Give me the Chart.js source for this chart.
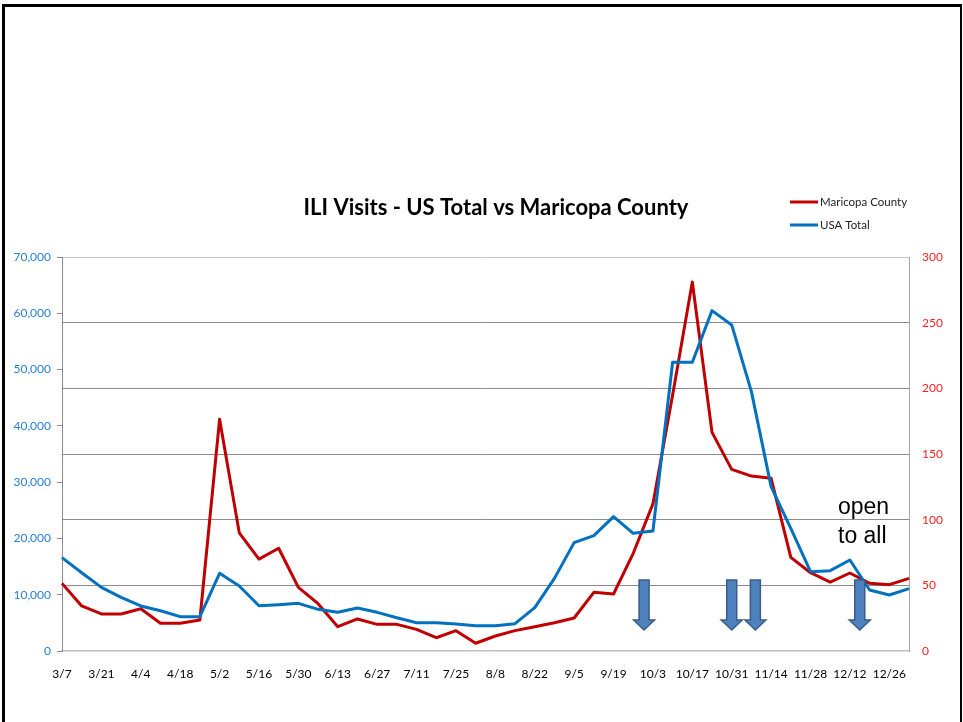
<!DOCTYPE html>
<html>
<head>
<meta charset="utf-8">
<title>ILI Visits - US Total vs Maricopa County</title>
<script src="https://cdn.jsdelivr.net/npm/chart.js@4.4.1/dist/chart.umd.min.js"></script>
<style>
  html, body { margin: 0; padding: 0; background: #fff; }
  #wrap { position: relative; width: 963px; height: 722px; }
  #frame {
    position: absolute; left: 2px; top: 4px; width: 955px; height: 730px;
    border-top: 3px solid #000; border-left: 3px solid #000; border-right: 2px solid #000;
    pointer-events: none;
  }
</style>
</head>
<body>
<div id="wrap">
  <canvas id="ili-chart" width="963" height="722"></canvas>
  <div id="frame"></div>
</div>
<script>
// Week labels (every other one is shown on the axis)
const weeks = [
  '3/7', '3/14', '3/21', '3/28', '4/4', '4/11', '4/18', '4/25', '5/2', '5/9',
  '5/16', '5/23', '5/30', '6/6', '6/13', '6/20', '6/27', '7/4', '7/11', '7/18',
  '7/25', '8/1', '8/8', '8/15', '8/22', '8/29', '9/5', '9/12', '9/19', '9/26',
  '10/3', '10/10', '10/17', '10/24', '10/31', '11/7', '11/14', '11/21', '11/28', '12/5',
  '12/12', '12/19', '12/26', '1/2'
];

// Maricopa County ILI visits (right axis)
const maricopa = [
  51.5, 34.3, 28.2, 28.2, 32.2, 21.1, 21.1, 23.6, 176.4, 90,
  70, 78.2, 48.5, 36, 18.5, 24.4, 20.3, 20.3, 16.5, 10.1,
  15.5, 5.9, 11.4, 15.5, 18.5, 21.5, 25.1, 44.7, 43.4, 74.4,
  112, 195, 281, 166.5, 138.3, 133.2, 131.5, 71.3, 59.6, 52.5,
  59.4, 51.5, 50.5, 55.3
];

// USA total ILI visits (left axis)
const usaTotal = [
  16600, 13900, 11300, 9540, 8000, 7160, 6100, 6100, 13800, 11550,
  8050, 8230, 8470, 7400, 6870, 7640, 6870, 5920, 5030, 5000,
  4800, 4500, 4500, 4850, 7700, 12900, 19250, 20500, 23870, 20900,
  21300, 51300, 51300, 60470, 57930, 46080, 29200, 21800, 14100, 14270,
  16170, 10840, 9950, 11070
];

// Axis ticks
const leftTicks = [0, 10000, 20000, 30000, 40000, 50000, 60000, 70000];
const rightTicks = [0, 50, 100, 150, 200, 250, 300];

// Arrow markers (week position, right-axis top and tip)
const arrowWeeks = [29.55, 34.0, 35.2, 40.5];
const arrowTop = 54;
const arrowTip = 16;
const noteLines = ['open', 'to all'];

const RED = '#C00000';
const BLUE = '#0070C0';

// Title, legend, arrows and note
const decorPlugin = {
  id: 'decor',
  afterDraw(chart) {
    const ctx = chart.ctx;
    const x = chart.scales.x;
    const yR = chart.scales.y1;
    ctx.save();

    // title
    ctx.fillStyle = '#000';
    ctx.font = 'bold 22px Lato, "Open Sans", sans-serif';
    ctx.textAlign = 'center';
    ctx.textBaseline = 'middle';
    ctx.fillText('ILI Visits - US Total vs Maricopa County', 496, 208);

    // legend
    const legendItems = [
      { label: 'Maricopa County', color: RED, y: 202 },
      { label: 'USA Total', color: BLUE, y: 225 }
    ];
    ctx.font = '11.5px Lato, sans-serif';
    ctx.textAlign = 'left';
    legendItems.forEach(item => {
      ctx.strokeStyle = item.color;
      ctx.lineWidth = 3;
      ctx.beginPath();
      ctx.moveTo(790, item.y);
      ctx.lineTo(818, item.y);
      ctx.stroke();
      ctx.fillStyle = '#222';
      ctx.fillText(item.label, 820, item.y);
    });

    // arrows
    arrowWeeks.forEach(w => {
      const cx = x.getPixelForValue(w);
      const top = yR.getPixelForValue(arrowTop);
      const tip = yR.getPixelForValue(arrowTip);
      const headTop = tip - 10;
      ctx.beginPath();
      ctx.moveTo(cx - 5, top);
      ctx.lineTo(cx + 5, top);
      ctx.lineTo(cx + 5, headTop);
      ctx.lineTo(cx + 10.5, headTop);
      ctx.lineTo(cx, tip);
      ctx.lineTo(cx - 10.5, headTop);
      ctx.lineTo(cx - 5, headTop);
      ctx.closePath();
      ctx.fillStyle = '#4F81BD';
      ctx.fill();
      ctx.strokeStyle = '#385D8A';
      ctx.lineWidth = 1.5;
      ctx.stroke();
    });

    // note
    ctx.fillStyle = '#000';
    ctx.font = '23px "Liberation Sans", Arial, sans-serif';
    ctx.textBaseline = 'alphabetic';
    ctx.fillText(noteLines[0], 838, 514);
    ctx.fillText(noteLines[1], 838, 543);

    ctx.restore();
  }
};

document.addEventListener('DOMContentLoaded', function () {
  const ctx = document.getElementById('ili-chart').getContext('2d');
  new Chart(ctx, {
    type: 'line',
    data: {
      labels: weeks,
      datasets: [
        {
          label: 'Maricopa County',
          data: maricopa,
          yAxisID: 'y1',
          borderColor: RED,
          borderWidth: 3,
          borderJoinStyle: 'round',
          pointRadius: 0,
          tension: 0,
          order: 1
        },
        {
          label: 'USA Total',
          data: usaTotal,
          yAxisID: 'y',
          borderColor: BLUE,
          borderWidth: 3,
          borderJoinStyle: 'round',
          pointRadius: 0,
          tension: 0,
          order: 0
        }
      ]
    },
    options: {
      responsive: false,
      animation: false,
      events: [],
      layout: { padding: { top: 257, bottom: 41, left: 0, right: 0 } },
      plugins: {
        legend: { display: false },
        title: { display: false },
        tooltip: { enabled: false }
      },
      scales: {
        x: {
          offset: false,
          grid: { display: false },
          border: { display: true, color: '#BFBFBF', width: 1.5 },
          ticks: {
            autoSkip: false,
            maxRotation: 0,
            minRotation: 0,
            padding: 8,
            color: '#000',
            font: { family: 'Lato', size: 12 },
            callback: function (value, index) {
              return index % 2 === 0 && index < 43 ? weeks[index] : '';
            }
          },
          afterFit: function (scale) { scale.height = 30; }
        },
        y: {
          position: 'left',
          min: 0,
          max: 70000,
          afterBuildTicks: function (scale) {
            scale.ticks = leftTicks.map(v => ({ value: v }));
          },
          grid: {
            drawOnChartArea: false,
            drawTicks: true,
            tickLength: 5,
            color: '#8C8C8C'
          },
          border: { display: true, color: '#8C8C8C' },
          ticks: {
            padding: 6,
            color: '#2A7FD4',
            font: { family: 'Lato', size: 12 },
            callback: v => v.toLocaleString('en-US')
          },
          afterFit: function (scale) { scale.width = 62; }
        },
        y1: {
          position: 'right',
          min: 0,
          max: 300,
          afterBuildTicks: function (scale) {
            scale.ticks = rightTicks.map(v => ({ value: v }));
          },
          grid: {
            drawOnChartArea: true,
            drawTicks: false,
            color: c => (c.tick && c.tick.value === 300 ? '#C8C8C8' : (c.tick && c.tick.value === 0 ? 'rgba(0,0,0,0)' : '#8C8C8C'))
          },
          border: { display: true, color: '#A6A6A6' },
          ticks: {
            padding: 13,
            color: '#FF2020',
            font: { family: 'Lato', size: 12 }
          },
          afterFit: function (scale) { scale.width = 54; }
        }
      }
    },
    plugins: [decorPlugin]
  });
});
</script>
</body>
</html>
